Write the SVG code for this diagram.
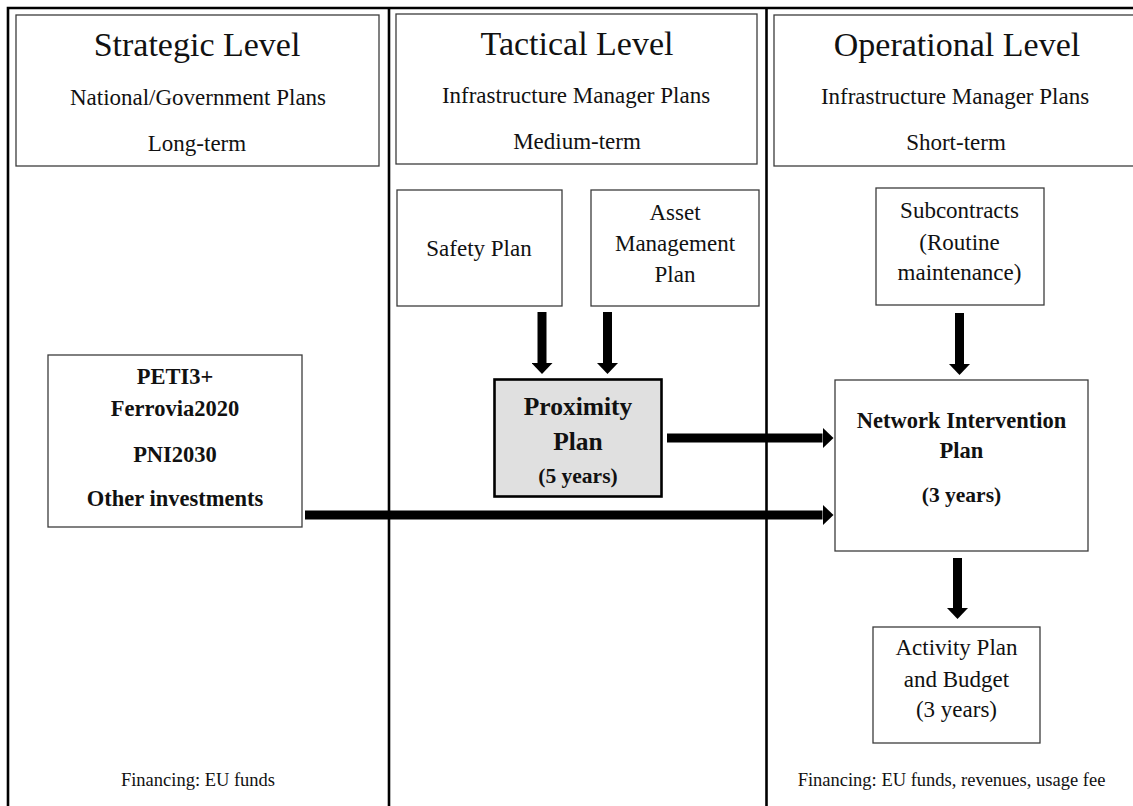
<svg xmlns="http://www.w3.org/2000/svg" width="1133" height="806" viewBox="0 0 1133 806">
<defs>
<style>
text{font-family:"Liberation Serif","Times New Roman",serif;fill:#111;text-anchor:middle}
.title{font-size:34px}
.sub{font-size:23px}
.body{font-size:23px}
.bold{font-size:22.5px;font-weight:bold}
.big{font-size:25.5px;font-weight:bold}
.fin{font-size:18.5px}
.box{fill:#fff;stroke:#3c3c3c;stroke-width:1.3}
.frame{fill:none;stroke:#000;stroke-width:2.6}
.arrow{stroke:#000;stroke-width:9;fill:none;marker-end:url(#head)}
</style>
<marker id="head" markerUnits="userSpaceOnUse" markerWidth="11" markerHeight="21" refX="0" refY="10.5" orient="auto" viewBox="0 0 11 21">
<path d="M0,0 L11,10.5 L0,21 Z" fill="#000"/>
</marker>
</defs>
<rect width="1133" height="806" fill="#fff"/>
<g id="frame">
<path class="frame" d="M8,820 V8 H1145"/>
<line class="frame" x1="389" y1="8" x2="389" y2="820"/>
<line class="frame" x1="766.5" y1="8" x2="766.5" y2="820"/>
</g>
<g id="strategic-header">
<rect class="box" x="16" y="15" width="363" height="151"/>
<text class="title" x="197" y="56">Strategic Level</text>
<text class="sub" x="198" y="105">National/Government Plans</text>
<text class="sub" x="197" y="151">Long-term</text>
</g>
<g id="tactical-header">
<rect class="box" x="396" y="14" width="361" height="150"/>
<text class="title" x="577" y="55">Tactical Level</text>
<text class="sub" x="576" y="103">Infrastructure Manager Plans</text>
<text class="sub" x="577" y="149">Medium-term</text>
</g>
<g id="operational-header">
<rect class="box" x="774" y="15" width="370" height="151"/>
<text class="title" x="957" y="56">Operational Level</text>
<text class="sub" x="955" y="104">Infrastructure Manager Plans</text>
<text class="sub" x="956" y="150">Short-term</text>
</g>
<g id="safety-plan">
<rect class="box" x="397" y="190" width="165" height="116"/>
<text class="body" x="479" y="256">Safety Plan</text>
</g>
<g id="asset-management-plan">
<rect class="box" x="591" y="190" width="168" height="116"/>
<text class="body" x="675" y="220">Asset</text>
<text class="body" x="675" y="251">Management</text>
<text class="body" x="675" y="282">Plan</text>
</g>
<g id="subcontracts">
<rect class="box" x="876" y="188" width="168" height="117"/>
<text class="body" x="959.5" y="218">Subcontracts</text>
<text class="body" x="959.5" y="250">(Routine</text>
<text class="body" x="959.5" y="280">maintenance)</text>
</g>
<g id="proximity-plan">
<rect x="494.5" y="379.5" width="167" height="117" fill="#e0e0e0" stroke="#000" stroke-width="2.6"/>
<text class="big" x="578" y="415">Proximity</text>
<text class="big" x="578" y="450">Plan</text>
<text class="bold" x="578" y="483" style="font-size:21.5px">(5 years)</text>
</g>
<g id="investments">
<rect class="box" x="48" y="355" width="254" height="172"/>
<text class="bold" x="175" y="384">PETI3+</text>
<text class="bold" x="175" y="416">Ferrovia2020</text>
<text class="bold" x="175" y="462">PNI2030</text>
<text class="bold" x="175" y="506">Other investments</text>
</g>
<g id="network-intervention-plan">
<rect class="box" x="835" y="380" width="253" height="171"/>
<text class="bold" x="961.5" y="428">Network Intervention</text>
<text class="bold" x="961.5" y="458">Plan</text>
<text class="bold" x="961.5" y="502" style="font-size:21.5px">(3 years)</text>
</g>
<g id="activity-plan">
<rect class="box" x="873" y="627" width="167" height="116"/>
<text class="body" x="956.5" y="655">Activity Plan</text>
<text class="body" x="956.5" y="687">and Budget</text>
<text class="body" x="956.5" y="717">(3 years)</text>
</g>
<g id="financing-strategic">
<text class="fin" x="198" y="786">Financing: EU funds</text>
</g>
<g id="financing-operational">
<text class="fin" x="951.5" y="786">Financing: EU funds, revenues, usage fee</text>
</g>
<g id="connectors">
<line class="arrow" x1="542" y1="312" x2="542" y2="363"/>
<line class="arrow" x1="607.5" y1="312" x2="607.5" y2="363"/>
<line class="arrow" x1="959.5" y1="313" x2="959.5" y2="364"/>
<line class="arrow" x1="957.5" y1="558" x2="957.5" y2="608"/>
<line class="arrow" x1="667" y1="438" x2="822.5" y2="438"/>
<line class="arrow" x1="305" y1="515" x2="822.5" y2="515"/>
</g>
</svg>
